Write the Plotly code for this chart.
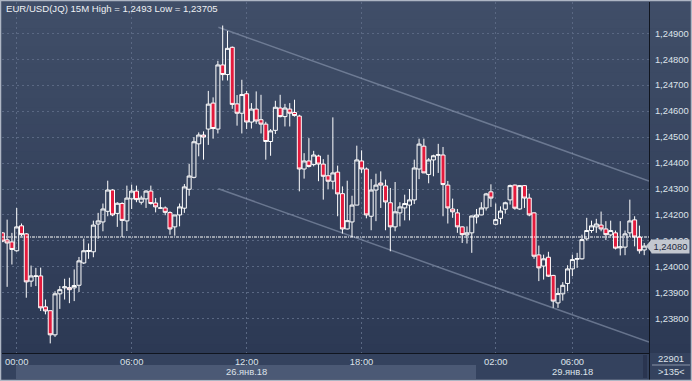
import plotly.graph_objects as go

# ---------------- data (EUR/USD 15M) ----------------
open_ = [1.24131, 1.24104, 1.24096, 1.24062, 1.24158, 1.24127, 1.23945, 1.23963, 1.23965, 1.23846,
         1.23831, 1.23738, 1.23896, 1.23919, 1.23920, 1.23919, 1.23929, 1.24015, 1.24059, 1.24058,
         1.24165, 1.24173, 1.24214, 1.24296, 1.24206, 1.24244, 1.24177, 1.24262, 1.24292, 1.24249,
         1.24262, 1.24292, 1.24246, 1.24226, 1.24227, 1.24209, 1.24154, 1.24200, 1.24226, 1.24299,
         1.24345, 1.24474, 1.24508, 1.24531, 1.24631, 1.24531, 1.24778, 1.24741, 1.24846, 1.24628,
         1.24592, 1.24667, 1.24558, 1.24608, 1.24567, 1.24550, 1.24483, 1.24526, 1.24612, 1.24579,
         1.24608, 1.24595, 1.24581, 1.24377, 1.24408, 1.24394, 1.24427, 1.24396, 1.24351, 1.24330,
         1.24365, 1.24282, 1.24146, 1.24173, 1.24238, 1.24408, 1.24377, 1.24195, 1.24296, 1.24323,
         1.24312, 1.24247, 1.24154, 1.24208, 1.24227, 1.24238, 1.24258, 1.24377, 1.24465, 1.24356,
         1.24412, 1.24430, 1.24431, 1.24315, 1.24223, 1.24208, 1.24154, 1.24123, 1.24131, 1.24192,
         1.24200, 1.24227, 1.24289, 1.24164, 1.24187, 1.24222, 1.24258, 1.24315, 1.24223, 1.24313,
         1.24265, 1.24208, 1.24046, 1.24003, 1.24037, 1.23967, 1.23861, 1.23896, 1.23936, 1.23992,
         1.24029, 1.24031, 1.24108, 1.24140, 1.24154, 1.24161, 1.24146, 1.24123, 1.24131, 1.24073,
         1.24076, 1.24131, 1.24181, 1.24115, 1.24065]
high = [1.24133, 1.24182, 1.24131, 1.24227, 1.24167, 1.24130, 1.24005, 1.23996, 1.23997, 1.23874,
        1.23831, 1.23906, 1.23926, 1.23954, 1.23958, 1.23990, 1.24038, 1.24109, 1.24090, 1.24178,
        1.24208, 1.24244, 1.24332, 1.24299, 1.24249, 1.24249, 1.24313, 1.24317, 1.24313, 1.24274,
        1.24295, 1.24313, 1.24265, 1.24268, 1.24233, 1.24214, 1.24200, 1.24244, 1.24319, 1.24397,
        1.24500, 1.24518, 1.24522, 1.24678, 1.24653, 1.24794, 1.24930, 1.24909, 1.24849, 1.24662,
        1.24721, 1.24678, 1.24631, 1.24676, 1.24663, 1.24559, 1.24531, 1.24640, 1.24663, 1.24628,
        1.24631, 1.24644, 1.24586, 1.24438, 1.24496, 1.24447, 1.24432, 1.24415, 1.24432, 1.24576,
        1.24390, 1.24310, 1.24332, 1.24274, 1.24467, 1.24449, 1.24383, 1.24338, 1.24359, 1.24368,
        1.24336, 1.24304, 1.24327, 1.24249, 1.24278, 1.24300, 1.24413, 1.24494, 1.24494, 1.24419,
        1.24432, 1.24474, 1.24462, 1.24331, 1.24263, 1.24223, 1.24156, 1.24156, 1.24197, 1.24223,
        1.24249, 1.24285, 1.24318, 1.24244, 1.24233, 1.24251, 1.24317, 1.24317, 1.24315, 1.24315,
        1.24282, 1.24210, 1.24082, 1.24047, 1.24058, 1.23969, 1.23919, 1.23941, 1.24006, 1.24047,
        1.24054, 1.24124, 1.24189, 1.24178, 1.24185, 1.24213, 1.24176, 1.24178, 1.24140, 1.24176,
        1.24140, 1.24259, 1.24195, 1.24159, 1.24092]
low = [1.24095, 1.23923, 1.24009, 1.24058, 1.24118, 1.23881, 1.23923, 1.23926, 1.23830, 1.23817,
       1.23705, 1.23730, 1.23838, 1.23874, 1.23860, 1.23868, 1.23903, 1.24011, 1.24031, 1.24037,
       1.24108, 1.24137, 1.24195, 1.24195, 1.24154, 1.24115, 1.24138, 1.24223, 1.24249, 1.24240,
       1.24227, 1.24240, 1.24210, 1.24224, 1.24199, 1.24124, 1.24120, 1.24156, 1.24208, 1.24274,
       1.24341, 1.24426, 1.24413, 1.24470, 1.24494, 1.24514, 1.24718, 1.24718, 1.24609, 1.24544,
       1.24514, 1.24531, 1.24533, 1.24551, 1.24514, 1.24413, 1.24428, 1.24512, 1.24576, 1.24541,
       1.24541, 1.24579, 1.24291, 1.24340, 1.24383, 1.24387, 1.24330, 1.24259, 1.24300, 1.24300,
       1.24195, 1.24128, 1.24144, 1.24115, 1.24238, 1.24362, 1.24187, 1.24141, 1.24176, 1.24227,
       1.24141, 1.24060, 1.24137, 1.24156, 1.24179, 1.24179, 1.24242, 1.24338, 1.24362, 1.24322,
       1.24349, 1.24362, 1.24195, 1.24167, 1.24189, 1.24131, 1.24092, 1.24090, 1.24054, 1.24167,
       1.24199, 1.24217, 1.24231, 1.24160, 1.24164, 1.24205, 1.24240, 1.24220, 1.24220, 1.24227,
       1.24195, 1.24031, 1.23945, 1.23951, 1.23961, 1.23842, 1.23842, 1.23870, 1.23906, 1.23964,
       1.23996, 1.24028, 1.24101, 1.24131, 1.24131, 1.24137, 1.24103, 1.24118, 1.24067, 1.24044,
       1.24045, 1.24115, 1.24079, 1.24051, 1.24045]
close = [1.24099, 1.24092, 1.24067, 1.24154, 1.24124, 1.23942, 1.23965, 1.23965, 1.23842, 1.23830,
         1.23738, 1.23896, 1.23912, 1.23923, 1.23912, 1.23928, 1.24023, 1.24062, 1.24063, 1.24161,
         1.24177, 1.24223, 1.24296, 1.24200, 1.24245, 1.24179, 1.24265, 1.24292, 1.24259, 1.24265,
         1.24292, 1.24244, 1.24231, 1.24227, 1.24210, 1.24146, 1.24200, 1.24231, 1.24308, 1.24350,
         1.24482, 1.24508, 1.24500, 1.24627, 1.24533, 1.24778, 1.24741, 1.24842, 1.24626, 1.24592,
         1.24664, 1.24558, 1.24608, 1.24562, 1.24550, 1.24483, 1.24524, 1.24615, 1.24579, 1.24612,
         1.24592, 1.24583, 1.24377, 1.24408, 1.24387, 1.24431, 1.24396, 1.24349, 1.24330, 1.24362,
         1.24281, 1.24146, 1.24178, 1.24238, 1.24412, 1.24377, 1.24200, 1.24296, 1.24315, 1.24315,
         1.24250, 1.24154, 1.24212, 1.24231, 1.24244, 1.24258, 1.24381, 1.24473, 1.24362, 1.24412,
         1.24428, 1.24432, 1.24317, 1.24227, 1.24212, 1.24154, 1.24124, 1.24131, 1.24196, 1.24200,
         1.24227, 1.24281, 1.24265, 1.24182, 1.24215, 1.24247, 1.24313, 1.24226, 1.24313, 1.24265,
         1.24200, 1.24041, 1.23996, 1.24031, 1.23964, 1.23868, 1.23897, 1.23929, 1.23992, 1.24028,
         1.24032, 1.24105, 1.24140, 1.24158, 1.24165, 1.24146, 1.24124, 1.24140, 1.24072, 1.24077,
         1.24127, 1.24177, 1.24115, 1.24062, 1.24080]
bar_index = list(range(len(close)))

time_tick_index = [3, 27, 51, 75, 103, 119]
time_tick_text = ["00:00", "06:00", "12:00", "18:00", "02:00", "06:00"]
date_label_index = [51, 119]
date_label_text = ["26.янв.18", "29.янв.18"]

price_ticks = [1.238, 1.239, 1.240, 1.241, 1.242, 1.243, 1.244, 1.245, 1.246, 1.247, 1.248, 1.249]
price_tick_text = ["1,23800", "1,23900", "1,24000", "1,24100", "1,24200", "1,24300",
                   "1,24400", "1,24500", "1,24600", "1,24700", "1,24800", "1,24900"]

last_price = 1.24080
last_price_text = "1,24080"
bid_line = 1.24115
channel_x = [45.1, 135.0]
channel_upper = [1.24923, 1.24331]
channel_lower = [1.24301, 1.23710]

title_text = "EUR/USD(JQ) 15M High = 1,2493 Low = 1,23705"
counter_text = ["22901", ">135<"]

# ---------------- layout geometry ----------------
W, H = 692, 381
ML, MR, MT, MB = 2, 43, 2, 28
PW = W - ML - MR
PH = H - MT - MB


def px_x(px):
    return (px - ML) / PW


def px_y(py):
    return (H - MB - py) / PH


FONT = "Liberation Sans, Arial, sans-serif"
FS = 9.4
TXT = "#dde2ea"

fig = go.Figure()
fig.add_trace(go.Candlestick(
    x=bar_index, open=open_, high=high, low=low, close=close,
    increasing=dict(line=dict(color="#ffffff", width=1), fillcolor="rgba(0,0,0,0)"),
    decreasing=dict(line=dict(color="#ffffff", width=1), fillcolor="#e31b3d"),
    whiskerwidth=0, hoverinfo="skip", showlegend=False,
))

shapes = []
# vertical gradient background (chart + right scale)
n_bands = 40
top_c = (64, 78, 104)
bot_c = (44, 57, 84)
y_top, y_bot = 2, 353
for k in range(n_bands):
    t = k / (n_bands - 1)
    c = tuple(round(top_c[j] + (bot_c[j] - top_c[j]) * t) for j in range(3))
    ya = y_top + (y_bot - y_top) * k / n_bands
    yb = y_top + (y_bot - y_top) * (k + 1) / n_bands
    shapes.append(dict(type="rect", xref="paper", yref="paper", layer="below",
                       x0=px_x(0), x1=px_x(W), y0=px_y(yb + 0.5), y1=px_y(ya - (2 if k == 0 else 0)),
                       fillcolor="rgb(%d,%d,%d)" % c, line=dict(width=0)))
# bottom time panel
shapes.append(dict(type="rect", xref="paper", yref="paper", layer="below",
                   x0=px_x(0), x1=px_x(W), y0=px_y(H), y1=px_y(353),
                   fillcolor="#34425e", line=dict(width=0)))
shapes.append(dict(type="rect", xref="paper", yref="paper", layer="below",
                   x0=px_x(16), x1=px_x(476), y0=px_y(379), y1=px_y(365),
                   fillcolor="#4b5975", line=dict(width=0)))
shapes.append(dict(type="rect", xref="paper", yref="paper", layer="below",
                   x0=px_x(643), x1=px_x(647), y0=px_y(378), y1=px_y(355),
                   fillcolor="#2a3550", line=dict(width=0)))
# right-bottom counter box divider
shapes.append(dict(type="line", xref="paper", yref="paper", layer="above",
                   x0=px_x(652), x1=px_x(690), y0=px_y(365), y1=px_y(365),
                   line=dict(color="#8a94a8", width=1)))
shapes.append(dict(type="line", xref="paper", yref="paper", layer="above",
                   x0=px_x(649.5), x1=px_x(649.5), y0=px_y(381), y1=px_y(352),
                   line=dict(color="#10151f", width=1)))
# channel lines
shapes.append(dict(type="line", xref="x", yref="y", layer="between",
                   x0=channel_x[0], x1=channel_x[1], y0=channel_upper[0], y1=channel_upper[1],
                   line=dict(color="rgba(150,162,185,0.55)", width=1.5)))
shapes.append(dict(type="line", xref="x", yref="y", layer="between",
                   x0=channel_x[0], x1=channel_x[1], y0=channel_lower[0], y1=channel_lower[1],
                   line=dict(color="rgba(150,162,185,0.55)", width=1.5)))
# bid line
shapes.append(dict(type="line", xref="paper", yref="y", layer="above",
                   x0=0, x1=1, y0=bid_line, y1=bid_line,
                   line=dict(color="#ffffff", width=1, dash="3px,1px,1px,1px")))
# price marker arrow
shapes.append(dict(type="path", xref="paper", yref="y", layer="above",
                   path="M %f,%f L %f,%f L %f,%f Z" % (
                       px_x(646), last_price, px_x(652), last_price + 0.00028,
                       px_x(652), last_price - 0.00028),
                   fillcolor="#c3c7cf", line=dict(width=0)))
# outer frame
shapes.append(dict(type="rect", xref="paper", yref="paper", layer="above",
                   x0=px_x(0.5), x1=px_x(W - 0.5), y0=px_y(H - 0.5), y1=px_y(0.5),
                   line=dict(color="#aeb6c4", width=1.5)))

annotations = [
    dict(xref="paper", yref="paper", x=px_x(4), y=px_y(8), xanchor="left", yanchor="middle",
         text=title_text, showarrow=False, font=dict(family=FONT, size=FS + 0.2, color="#eef0f4")),
    dict(xref="paper", yref="y", x=px_x(651), y=last_price, xanchor="left", yanchor="middle",
         text=last_price_text, showarrow=False, width=37, height=13,
         bgcolor="#c3c7cf", borderpad=0, font=dict(family=FONT, size=FS, color="#1e2840")),
    dict(xref="paper", yref="paper", x=px_x(671), y=px_y(358.5), xanchor="center", yanchor="middle",
         text=counter_text[0], showarrow=False, font=dict(family=FONT, size=FS, color=TXT)),
    dict(xref="paper", yref="paper", x=px_x(671), y=px_y(371.5), xanchor="center", yanchor="middle",
         text=counter_text[1], showarrow=False, font=dict(family=FONT, size=FS, color=TXT)),
]
for xi, t in zip(date_label_index, date_label_text):
    annotations.append(dict(xref="x", yref="paper", x=xi, y=px_y(371), xanchor="center",
                            yanchor="middle", text=t, showarrow=False,
                            font=dict(family=FONT, size=FS, color=TXT)))

grid_col = "#5a6883"
fig.update_layout(
    width=W, height=H,
    margin=dict(l=ML, r=MR, t=MT, b=MB, pad=0, autoexpand=False),
    paper_bgcolor="#34425e", plot_bgcolor="rgba(0,0,0,0)",
    shapes=shapes, annotations=annotations,
    showlegend=False, hovermode=False,
    boxgap=0.12, boxgroupgap=0.05,
    xaxis=dict(range=[-0.07, 135.0], tickmode="array", tickvals=time_tick_index,
               ticktext=time_tick_text, showgrid=True, gridcolor=grid_col, griddash="2px,3px",
               gridwidth=1, zeroline=False, showline=True, linecolor="#10151f", linewidth=1,
               ticks="", ticklabelstandoff=0, automargin=False,
               tickfont=dict(family=FONT, size=FS, color=TXT),
               rangeslider=dict(visible=False), fixedrange=True),
    yaxis=dict(range=[1.236680, 1.250206], side="right", tickmode="array",
               tickvals=price_ticks, ticktext=price_tick_text, showgrid=True,
               gridcolor=grid_col, griddash="2px,3px", gridwidth=1, zeroline=False,
               showline=True, linecolor="#10151f", linewidth=1, ticks="",
               ticklabelstandoff=3, automargin=False,
               tickfont=dict(family=FONT, size=FS, color=TXT), fixedrange=True),
)

fig.write_html("out.html", config={"displayModeBar": False, "staticPlot": True},
               post_script="document.body.style.margin='0';document.body.style.padding='0';")
